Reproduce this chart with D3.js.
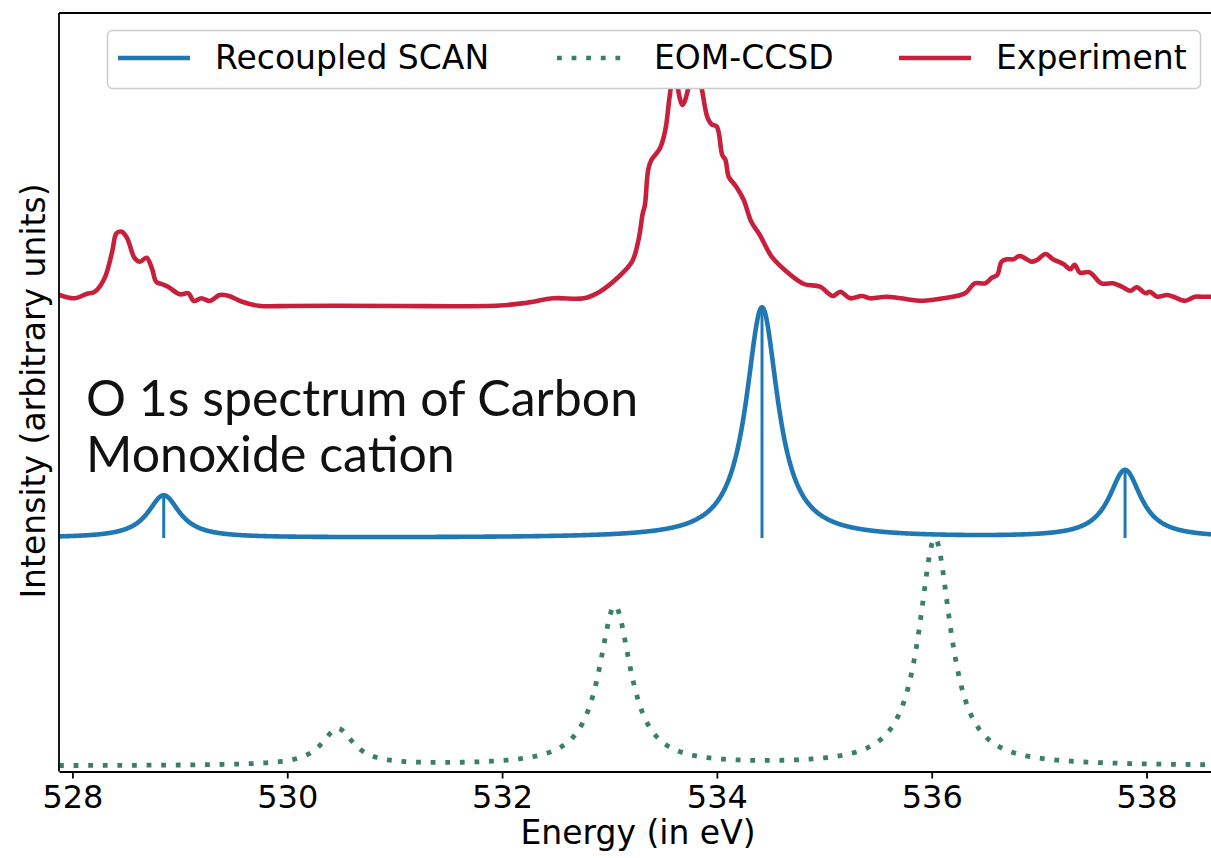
<!DOCTYPE html>
<html>
<head>
<meta charset="utf-8">
<script src="https://cdn.jsdelivr.net/npm/d3@7"></script>
<style>
  body { margin: 0; background: #fff; }
  svg { display: block; }
</style>
</head>
<body>
<svg id="chart" width="1211" height="858"></svg>
<script>
// Recoupled SCAN stick spectrum: excitation energies (eV) and relative intensities
const scanEnergies = [528.85, 534.42, 537.80];
const scanIntensities = [0.425, 2.305, 0.675];

// EOM-CCSD stick spectrum
const eomEnergies = [530.47, 533.05, 536.03];
const eomIntensities = [0.365, 1.59, 2.27];

// Vertical offsets used to stack the theoretical spectra
const scanOffset = 2.335;
const eomOffset = 0.055;

// Lorentzian half width at half maximum (eV)
const hwhm = 0.18;

// Experimental spectrum (eV, stacked intensity)
const expEnergy = [
  527.88, 528.02, 528.13, 528.21, 528.30, 528.37, 528.41, 528.46, 528.51, 528.58,
  528.63, 528.69, 528.74, 528.78, 528.83, 528.89, 529.00, 529.08, 529.13, 529.20,
  529.28, 529.37, 529.45, 529.58, 529.73, 530.01, 530.44, 531.05, 531.98, 532.23,
  532.48, 532.76, 532.91, 533.07, 533.21, 533.27, 533.31, 533.33, 533.36, 533.39,
  533.47, 533.52, 533.56, 533.60, 533.68, 533.79, 533.83, 533.86, 533.91, 533.95,
  534.00, 534.05, 534.08, 534.11, 534.18, 534.25, 534.32, 534.40, 534.51, 534.65,
  534.81, 534.96, 535.08, 535.15, 535.24, 535.35, 535.43, 535.58, 535.71, 535.92,
  536.11, 536.31, 536.40, 536.50, 536.56, 536.61, 536.65, 536.70, 536.76, 536.82,
  536.93, 536.98, 537.06, 537.13, 537.23, 537.29, 537.33, 537.38, 537.47, 537.58,
  537.69, 537.77, 537.85, 537.91, 537.99, 538.03, 538.10, 538.19, 538.25, 538.36,
  538.45, 538.51, 538.61
];
const expIntensity = [
  4.765, 4.732, 4.775, 4.798, 4.935, 5.198, 5.382, 5.398, 5.332, 5.132,
  5.098, 5.138, 5.032, 4.898, 4.875, 4.848, 4.772, 4.782, 4.705, 4.732,
  4.705, 4.765, 4.758, 4.698, 4.658, 4.655, 4.658, 4.655, 4.660, 4.688,
  4.732, 4.732, 4.798, 4.932, 5.098, 5.315, 5.582, 5.665, 6.015, 6.115,
  6.232, 6.415, 6.748, 7.000, 6.665, 7.020, 6.950, 6.822, 6.548, 6.472,
  6.448, 6.165, 6.115, 5.948, 5.848, 5.715, 5.498, 5.365, 5.148, 4.998,
  4.875, 4.848, 4.755, 4.798, 4.732, 4.755, 4.732, 4.748, 4.732, 4.708,
  4.732, 4.782, 4.882, 4.882, 4.938, 4.965, 5.098, 5.122, 5.122, 5.155,
  5.098, 5.115, 5.175, 5.122, 5.072, 5.022, 5.068, 4.988, 4.992, 4.882,
  4.882, 4.848, 4.808, 4.842, 4.782, 4.798, 4.748, 4.765, 4.748, 4.708,
  4.748, 4.748, 4.748
];

const xTicks = [528, 530, 532, 534, 536, 538];
const seriesNames = ["Recoupled SCAN", "EOM-CCSD", "Experiment"];
const seriesColors = ["#1f77b4", "#3a7e6b", "#c8203c"];

const annotationLines = ["O 1s spectrum of Carbon", "Monoxide cation"];

const svg = d3.select("#chart");
const plot = { left: 59, right: 1217, top: 13, bottom: 771.5 };

const x = d3.scaleLinear().domain([527.875, 538.656]).range([plot.left, plot.right]);
const y = d3.scaleLinear().domain([0, 7.585]).range([plot.bottom, plot.top]);

svg.append("defs").append("clipPath").attr("id", "plotClip")
  .append("rect")
  .attr("x", plot.left).attr("y", plot.top)
  .attr("width", plot.right - plot.left).attr("height", plot.bottom - plot.top);

// Lorentzian-broadened spectrum built from a stick spectrum
function broadened(energies, intensities, offset) {
  const grid = d3.range(x.domain()[0], x.domain()[1] + 0.002, 0.004);
  return grid.map(e => {
    let s = 0;
    energies.forEach((e0, i) => {
      const d = e - e0;
      s += intensities[i] * hwhm * hwhm / (d * d + hwhm * hwhm);
    });
    return [e, offset + s];
  });
}

const line = d3.line().x(d => x(d[0])).y(d => y(d[1]));
const smooth = d3.line().x(d => x(d[0])).y(d => y(d[1])).curve(d3.curveCatmullRom.alpha(0.5));

const g = svg.append("g").attr("clip-path", "url(#plotClip)");

// EOM-CCSD (dotted)
g.append("path")
  .datum(broadened(eomEnergies, eomIntensities, eomOffset))
  .attr("d", line)
  .attr("fill", "none")
  .attr("stroke", seriesColors[1])
  .attr("stroke-width", 4.8)
  .attr("stroke-dasharray", "4.8,9.8");

// Recoupled SCAN curve and sticks
g.append("path")
  .datum(broadened(scanEnergies, scanIntensities, scanOffset))
  .attr("d", line)
  .attr("fill", "none")
  .attr("stroke", seriesColors[0])
  .attr("stroke-width", 4.6)
  .attr("stroke-linejoin", "round");

g.selectAll(".stick")
  .data(scanEnergies.map((e, i) => [e, scanIntensities[i]]))
  .join("line")
  .attr("class", "stick")
  .attr("x1", d => x(d[0])).attr("x2", d => x(d[0]))
  .attr("y1", y(scanOffset)).attr("y2", d => y(scanOffset + d[1]))
  .attr("stroke", seriesColors[0])
  .attr("stroke-width", 3);

// Experiment
g.append("path")
  .datum(expEnergy.map((e, i) => [e, expIntensity[i]]))
  .attr("d", smooth)
  .attr("fill", "none")
  .attr("stroke", seriesColors[2])
  .attr("stroke-width", 4.6)
  .attr("stroke-linejoin", "round")
  .attr("stroke-linecap", "round");

// Spines
svg.append("line")
  .attr("x1", plot.left).attr("x2", plot.left)
  .attr("y1", plot.top).attr("y2", plot.bottom)
  .attr("stroke", "#000").attr("stroke-width", 1.8);
svg.append("line")
  .attr("x1", plot.left).attr("x2", plot.right)
  .attr("y1", plot.top).attr("y2", plot.top)
  .attr("stroke", "#000").attr("stroke-width", 1.8);

// X axis
const xAxis = svg.append("g")
  .attr("transform", `translate(0,${plot.bottom})`)
  .call(d3.axisBottom(x).tickValues(xTicks).tickFormat(d3.format("d")).tickSize(7).tickPadding(7).tickSizeOuter(0));
xAxis.select(".domain").attr("stroke-width", 1.8).attr("stroke", "#000");
xAxis.selectAll(".tick line").attr("stroke-width", 1.8);
xAxis.selectAll(".tick text")
  .attr("font-family", "DejaVu Sans")
  .attr("font-size", 32)
  .attr("fill", "#000");

svg.append("text")
  .attr("x", 638).attr("y", 844)
  .attr("text-anchor", "middle")
  .attr("font-family", "DejaVu Sans")
  .attr("font-size", 33)
  .text("Energy (in eV)");

svg.append("text")
  .attr("transform", "translate(45,391) rotate(-90)")
  .attr("text-anchor", "middle")
  .attr("font-family", "DejaVu Sans")
  .attr("font-size", 33)
  .text("Intensity (arbitrary units)");

// Annotation
const note = svg.append("text")
  .attr("font-family", "Lato")
  .attr("font-weight", 400)
  .attr("font-size", 50)
  .attr("fill", "#111");
annotationLines.forEach((t, i) => {
  note.append("tspan").attr("x", 86).attr("y", 416 + i * 56).text(t);
});

// Legend
const legend = svg.append("g");
legend.append("rect")
  .attr("x", 107.5).attr("y", 30.5)
  .attr("width", 1093).attr("height", 58)
  .attr("rx", 5)
  .attr("fill", "#fff")
  .attr("stroke", "#cccccc")
  .attr("stroke-width", 1.5);

const handleX = [118, 557, 899];
const labelX = [215, 654, 996];
seriesNames.forEach((name, i) => {
  const h = legend.append("line")
    .attr("x1", handleX[i]).attr("x2", handleX[i] + 72)
    .attr("y1", 58).attr("y2", 58)
    .attr("stroke", seriesColors[i])
    .attr("stroke-width", 4.6);
  if (i === 1) h.attr("stroke-dasharray", "4.8,9.8");
  legend.append("text")
    .attr("x", labelX[i]).attr("y", 69)
    .attr("font-family", "DejaVu Sans")
    .attr("font-size", 33)
    .text(name);
});
</script>
</body>
</html>
